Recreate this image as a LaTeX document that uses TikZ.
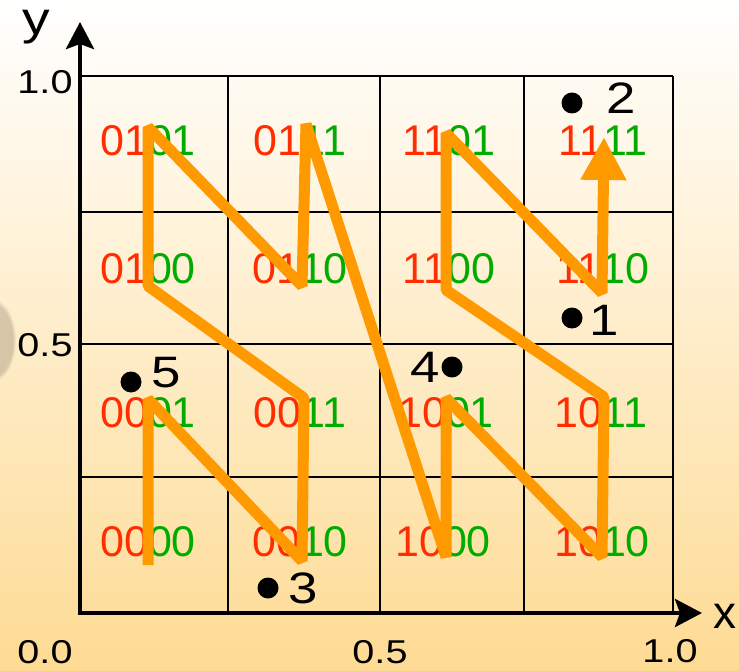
\documentclass[tikz,border=0pt]{standalone}
\usepackage{fontspec}
\setmainfont{Liberation Sans}
\usetikzlibrary{arrows.meta,fadings}
\definecolor{bgtop}{RGB}{255,255,255}
\definecolor{bgbot}{RGB}{254,219,148}
\definecolor{cred}{RGB}{255,45,0}
\definecolor{cgreen}{RGB}{0,172,0}
\definecolor{zorange}{RGB}{255,153,0}
\newcommand{\zlab}[2]{\textcolor{cred}{#1}\textcolor{cgreen}{#2}}
\newcommand{\wide}[1]{\scalebox{1.2}[1]{#1}}
\begin{document}
\begin{tikzpicture}[x=1pt,y=-1pt,
  gridline/.style={line width=2pt, black},
  axisline/.style={line width=4.5pt, black},
  cell/.style={inner sep=0pt, font=\fontsize{43}{43}\selectfont},
  ticklab/.style={inner sep=0pt, font=\fontsize{33}{33}\selectfont},
  ptlab/.style={inner sep=0pt, font=\fontsize{44}{44}\selectfont},
  axlab/.style={inner sep=0pt, anchor=base, font=\fontsize{46}{46}\selectfont},
  dot/.style={circle, fill=black, inner sep=0pt, minimum size=21pt},
  zpath/.style={line width=11pt, zorange, line join=bevel,
    -{Triangle[length=43pt,width=43pt]}}]
% background
\useasboundingbox (0,0) rectangle (739,671);
\shade[top color=bgtop, bottom color=bgbot] (0,0) rectangle (739,671);
\fill[black, opacity=0.16, path fading=circle with fuzzy edge 15 percent] (-8,340) ellipse (24 and 42);
% grid
\foreach \gx in {228,380,524,673} \draw[gridline] (\gx,76) -- (\gx,613);
\foreach \gy in {76,212,344,477} \draw[gridline] (80,\gy) -- (673,\gy);
% axes
\coordinate (origin) at (80,613);
\coordinate (xtip) at (702,613);
\coordinate (ytip) at (80,22);
\draw[axisline, {Stealth[length=27pt,width=28pt,inset=5pt]}-{Stealth[length=27pt,width=28pt,inset=5pt]}] (xtip) -- (origin) -- (ytip);
\node[axlab] (ylab) at (36,35) {\wide{y}};
\node[axlab] (xlab) at (725,628) {x};
\node[ticklab] (t10y) at (45,82) {\wide{1.0}};
\node[ticklab] (t05y) at (45,345) {\wide{0.5}};
\node[ticklab] (t00) at (45,652) {\wide{0.0}};
\node[ticklab] (t05x) at (380,652) {\wide{0.5}};
\node[ticklab] (t10x) at (670,651) {\wide{1.0}};
% cell labels
\node[cell] (l0101) at (148,141) {\zlab{01}{01}};
\node[cell] (l0111) at (300,141) {\zlab{01}{11}};
\node[cell] (l1101) at (449,141) {\zlab{11}{01}};
\node[cell] (l1111) at (603,141) {\zlab{11}{11}};
\node[cell] (l0100) at (148,269) {\zlab{01}{00}};
\node[cell] (l0110) at (300,269) {\zlab{01}{10}};
\node[cell] (l1100) at (449,269) {\zlab{11}{00}};
\node[cell] (l1110) at (603,269) {\zlab{11}{10}};
\node[cell] (l0001) at (148,413) {\zlab{00}{01}};
\node[cell] (l0011) at (300,413) {\zlab{00}{11}};
\node[cell] (l1001) at (446,413) {\zlab{10}{01}};
\node[cell] (l1011) at (601,413) {\zlab{10}{11}};
\node[cell] (l0000) at (148,542) {\zlab{00}{00}};
\node[cell] (l0010) at (300,542) {\zlab{00}{10}};
\node[cell] (l1000) at (443,542) {\zlab{10}{00}};
\node[cell] (l1010) at (602,542) {\zlab{10}{10}};
% Z-order path vertices
\coordinate (v0) at (148,565);
\coordinate (v1) at (148,399);
\coordinate (v2) at (302,561);
\coordinate (v3) at (304,398);
\coordinate (v4) at (148,286);
\coordinate (v5) at (148,127);
\coordinate (v6) at (302,286);
\coordinate (v7) at (306,124);
\coordinate (v8) at (446,557);
\coordinate (v9) at (446,398);
\coordinate (v10) at (602,557);
\coordinate (v11) at (604,397);
\coordinate (v12) at (446,290);
\coordinate (v13) at (446,133);
\coordinate (v14) at (602,293);
\coordinate (v15) at (604,137);
\draw[zpath] (v0) -- (v1) -- (v2) -- (v3) -- (v4) -- (v5) -- (v6) -- (v7) -- (v8) -- (v9) -- (v10) -- (v11) -- (v12) -- (v13) -- (v14) -- (v15);
% points
\node[dot] (d1) at (572,318) {};
\node[dot] (d2) at (572,103) {};
\node[dot] (d3) at (268,588) {};
\node[dot] (d4) at (452,367) {};
\node[dot] (d5) at (131,382) {};
\node[ptlab] (p1) at (604,320) {\wide{1}};
\node[ptlab] (p2) at (621,98) {\wide{2}};
\node[ptlab] (p3) at (303,588) {\wide{3}};
\node[ptlab] (p4) at (425,367) {\wide{4}};
\node[ptlab] (p5) at (166,373) {\wide{5}};
\end{tikzpicture}
\end{document}
